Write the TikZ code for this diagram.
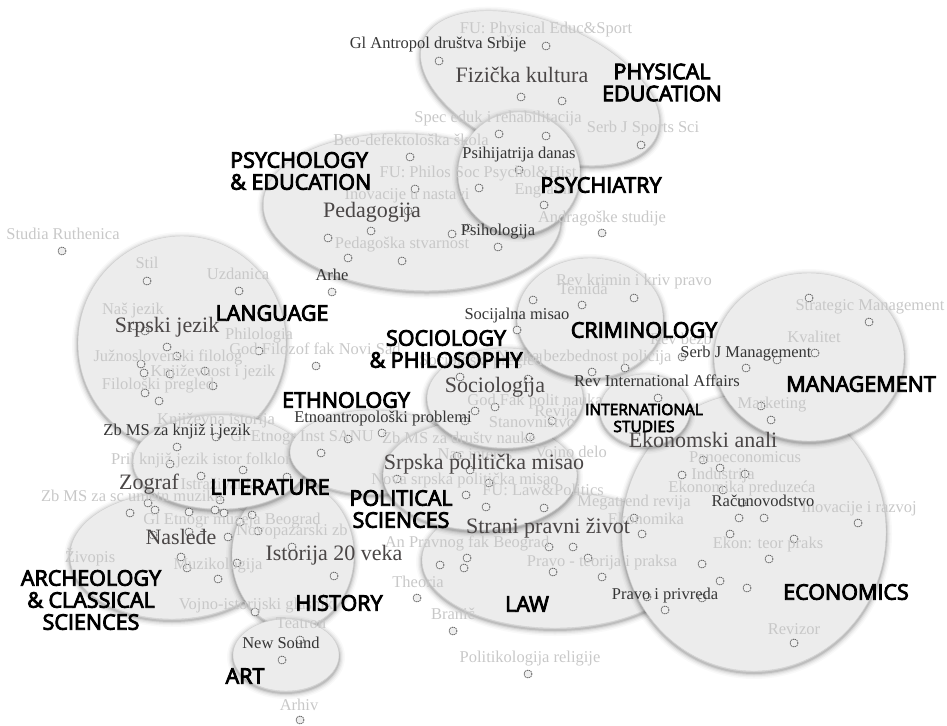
\documentclass[tikz,border=0pt]{standalone}
\usepackage{fontspec}
\newfontfamily\journalfam{Liberation Serif}
\newfontfamily\catfam[FakeBold=4]{Open Sans}
\definecolor{zonefill}{HTML}{ECECEC}
\definecolor{zoneline}{HTML}{D0D0D0}
\definecolor{jlight}{HTML}{C8C8C8}
\definecolor{jdark}{HTML}{353535}
\definecolor{jbig}{HTML}{4A4646}
\definecolor{dotline}{HTML}{5A5A5A}
\definecolor{dotfill}{HTML}{EEEEEE}

% a soft-shadowed grey field: name, centre x, centre y, x radius, y radius, rotation
\newcommand\zone[6]{%
  \foreach \w/\o in {12/0.025, 9/0.035, 6.5/0.05, 4/0.07, 2/0.1}
    \draw[line width=\w pt, black, opacity=\o, shift={(#2,#3+2)}, rotate=#6]
      (0,0) ellipse [x radius=#4, y radius=#5];
  \path[fill=zonefill, draw=zoneline, line width=0.4pt, shift={(#2,#3)}, rotate=#6]
    (0,0) ellipse [x radius=#4, y radius=#5];
  \coordinate (#1) at (#2,#3);
}

\tikzset{
  catlbl/.style={font=\catfam\fontsize{21.5}{22}\selectfont, text=black, align=center, inner sep=0pt},
  smallcat/.style={font=\catfam\fontsize{15.5}{17}\selectfont, text=black, align=center, inner sep=0pt},
  lightlbl/.style={font=\journalfam\fontsize{16.5}{18}\selectfont, text=jlight, inner sep=0pt, anchor=mid},
  darklbl/.style={font=\journalfam\fontsize{16.5}{18}\selectfont, text=jdark, inner sep=0pt, anchor=mid},
  biglbl/.style={font=\journalfam\fontsize{22}{24}\selectfont, text=jbig, inner sep=0pt, anchor=mid},
  dotmark/.style={circle, draw=dotline, fill=dotfill, minimum size=8pt, inner sep=0pt,
    line width=0.8pt, dash pattern=on 1.3pt off 0.8pt}
}

\begin{document}
\begin{tikzpicture}[x=1pt, y=-1pt]
\useasboundingbox (0,0) rectangle (947,725);

% subject fields
\zone{physed}{540}{88}{126}{66}{-22}
\zone{psyedu}{412}{212}{149}{78}{-4}
\zone{psychiatry}{519}{173}{61}{61}{0}
\zone{language}{182}{343}{104}{107}{0}
\zone{archeo}{172}{556}{102}{63}{0}
\zone{history}{293}{555}{61}{73}{0}
\zone{art}{286}{655}{53}{36}{0}
\zone{literature}{220}{462}{87}{47}{0}
\zone{ethno}{372}{452}{82}{42}{0}
\zone{law}{555}{560}{133}{68}{0}
\zone{polit}{480}{475}{97}{55}{0}
\zone{socio}{505}{398}{78}{50}{0}
\zone{crimin}{590}{318}{73}{60}{0}
\zone{econ}{754}{532}{132}{139}{0}
\zone{manage}{809}{357}{95}{84}{0}
\zone{intl}{645}{410}{45}{36}{0}

% journals
\foreach \x/\y [count=\k] in {
  546/46, 439/61, 521/97, 562/101, 499/134, 546/136, 641/145, 410/157, 519/170,
  415/189, 479/188, 544/205, 408/211, 371/231, 452/234, 468/228, 328/238, 498/247,
  348/258, 402/261, 602/233, 62/251, 147/281, 239/291, 332/292, 134/326, 145/331,
  167/347, 177/356, 259/351, 316/366, 141/364, 144/373, 170/374, 205/371, 145/393,
  213/386, 159/401, 216/437, 177/447, 170/464, 201/476, 243/470, 287/477, 382/433,
  348/439, 321/453, 465/421, 475/411, 495/407, 460/377, 528/379, 517/330, 533/300,
  582/305, 634/298, 592/372, 625/368, 682/357, 746/368, 777/360, 815/353, 809/298,
  869/322, 658/398, 761/406, 771/420, 552/421, 530/437, 457/456, 470/470, 397/479,
  489/483, 466/495, 486/507, 544/508, 634/518, 642/534, 549/547, 573/547, 467/558,
  464/568, 440/565, 588/558, 553/572, 602/577, 334/576, 417/598, 453/631, 528/674,
  647/597, 702/598, 665/610, 682/475, 703/460, 720/468, 745/474, 723/490, 742/503,
  739/518, 764/518, 730/534, 794/539, 858/523, 769/559, 702/564, 720/581, 747/588,
  794/643, 130/513, 148/503, 155/510, 189/512, 215/510, 224/513, 220/500, 252/515,
  240/522, 258/531, 228/537, 189/532, 153/535, 181/557, 187/568, 237/563, 218/579,
  255/612, 292/547, 300/640, 282/660, 300/720}
  \node[dotmark] (dot\k) at (\x,\y) {};

% journal titles, minor
\foreach \t/\x/\y [count=\k] in {
  {FU: Physical Educ\&Sport}/546/31,
  {Spec eduk i rehabilitacija}/498/120,
  {Serb J Sports Sci}/643/130,
  {Beo-defektološka škola}/411/143,
  {FU: Philos Soc Psychol\&Hist}/478/175,
  {Engrami}/543/192,
  {Inovacije u nastavi}/407/197,
  {Andragoške studije}/602/220,
  {Pedagoška stvarnost}/402/246,
  {Studia Ruthenica}/63/237,
  {Stil}/147/266,
  {Uzdanica}/238/277,
  {Naš jezik}/133/312,
  {Philologia}/259/337,
  {God Filozof fak Novi Sad}/315/352,
  {Južnoslovenski filolog}/168/359,
  {Književnost i jezik}/213/374,
  {Filološki pregled}/158/387,
  {Književna istorija}/216/422,
  {Gl Etnogr Inst SANU}/302/439,
  {Zb MS za društv nauke}/459/441,
  {Pril knjiž jezik istor folklor}/201/462,
  {Istraživanja}/219/487,
  {Zb MS za sc umetn muziku}/132/499,
  {Gl Etnogr muzeja Beograd}/232/522,
  {Novopazarski zb}/292/533,
  {Živopis}/90/560,
  {Muzikologija}/218/567,
  {Vojno-istorijski glasnik}/256/607,
  {Teatron}/301/626,
  {Arhiv}/299/708,
  {Rev krimin i kriv pravo}/634/283,
  {Temida}/583/292,
  {Rev bezb}/681/342,
  {Nauka bezbednost policija}/584/359,
  {Sociološki pregled}/481/363,
  {God Fak polit nauka}/535/403,
  {Revija}/556/414,
  {Stanovništvo}/532/425,
  {Vojno delo}/571/455,
  {Nac interes}/475/457,
  {Nova srpska politička misao}/465/482,
  {FU: Law\&Politics}/543/493,
  {Megatrend revija}/634/504,
  {Ekonomika}/646/522,
  {An Pravnog fak Beograd}/467/545,
  {Pravo - teorija i praksa}/602/564,
  {Theoria}/418/585,
  {Branič}/453/617,
  {Politikologija religije}/530/660,
  {Strategic Management}/870/308,
  {Kvalitet}/814/340,
  {Marketing}/772/406,
  {Panoeconomicus}/745/460,
  {Industrija}/723/477,
  {Ekonomika preduzeća}/742/490,
  {Inovacije i razvoj}/859/510,
  {Ekon: teor praks}/768/546,
  {Revizor}/794/632}
  \node[lightlbl] (minor\k) at (\x,\y) {\t};

% journal titles, highlighted
\foreach \t/\x/\y [count=\k] in {
  {Gl Antropol društva Srbije}/438/46,
  {Psihijatrija danas}/519/156,
  {Psihologija}/498/233,
  {Arhe}/332/278,
  {Socijalna misao}/517/317,
  {Serb J Management}/746/355,
  {Rev International Affairs}/657/384,
  {Etnoantropološki problemi}/383/420,
  {Zb MS za knjiž i jezik}/177/433,
  {Računovodstvo}/763/504,
  {Pravo i privreda}/665/597,
  {New Sound}/281/646}
  \node[darklbl] (major\k) at (\x,\y) {\t};

% leading journal of each field
\foreach \t/\x/\y [count=\k] in {
  {Fizička kultura}/522/80,
  {Pedagogija}/372/215,
  {Srpski jezik}/167/330,
  {Sociologija}/495/390,
  {Ekonomski anali}/703/445,
  {Srpska politička misao}/484/467,
  {Strani pravni život}/548/531,
  {Zograf}/149/487,
  {Nasleđe}/181/542,
  {Istorija 20 veka}/334/558}
  \node[biglbl] (lead\k) at (\x,\y) {\t};

% field names
\node[catlbl] (cPhys) at (662,82.5) {PHYSICAL\\EDUCATION};
\node[catlbl, align=left, anchor=west] (cPsyEd) at (230,171) {PSYCHOLOGY\\\& EDUCATION};
\node[catlbl] (cPsychiatry) at (601,185) {PSYCHIATRY};
\node[catlbl] (cLang) at (272,313) {LANGUAGE};
\node[catlbl] (cSocio) at (446,349) {SOCIOLOGY\\\& PHILOSOPHY};
\node[catlbl] (cCrim) at (644,330) {CRIMINOLOGY};
\node[catlbl] (cMan) at (861,384) {MANAGEMENT};
\node[catlbl] (cEthno) at (346,400) {ETHNOLOGY};
\node[smallcat] (cIntl) at (644,418) {INTERNATIONAL\\STUDIES};
\node[catlbl] (cLit) at (270,487) {LITERATURE};
\node[catlbl] (cPol) at (401,509) {POLITICAL\\SCIENCES};
\node[catlbl] (cArch) at (91,600) {ARCHEOLOGY\\\& CLASSICAL\\SCIENCES};
\node[catlbl] (cHist) at (339,603) {HISTORY};
\node[catlbl] (cLaw) at (527,604) {LAW};
\node[catlbl] (cEcon) at (846,592) {ECONOMICS};
\node[catlbl] (cArt) at (245,676) {ART};
\end{tikzpicture}
\end{document}
